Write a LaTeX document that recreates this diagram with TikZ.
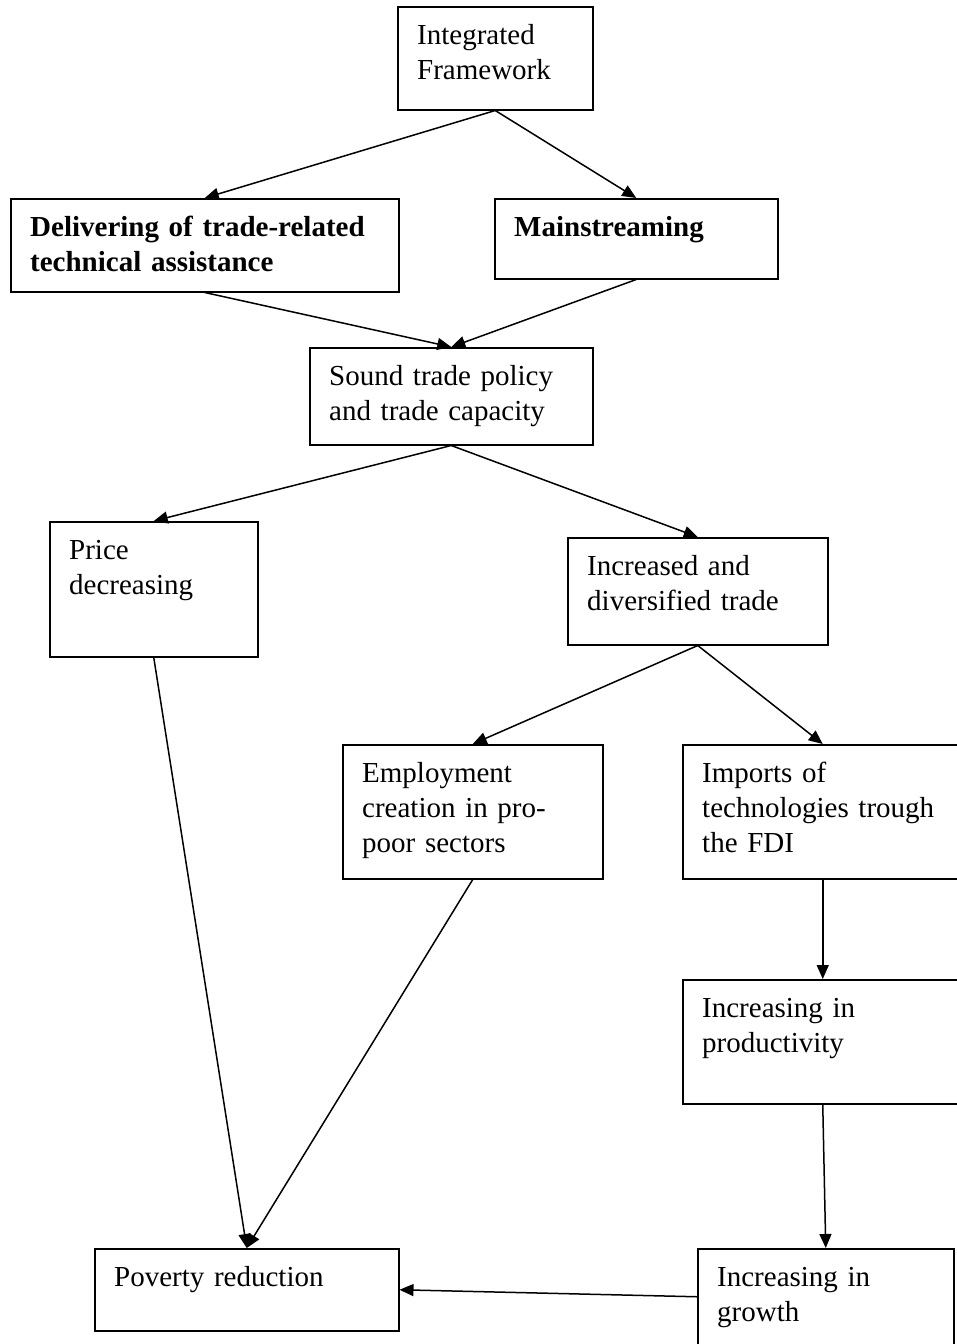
\documentclass[tikz,border=0pt]{standalone}
\usepackage{fontspec}
\setmainfont{Liberation Serif}
\usetikzlibrary{arrows.meta}
\begin{document}
\begin{tikzpicture}[x=1pt,y=-1pt,
  boxnode/.style={draw=black,line width=1.5pt,inner sep=0pt,anchor=north west},
  txt/.style={anchor=base west,inner sep=0pt,text width=400pt,align=left,
    font=\fontsize{29}{35}\selectfont},
  conn/.style={line width=1.5pt,-{Triangle[length=14pt,width=12pt]}}]
\useasboundingbox (0,0) rectangle (956,1344);
\fill[white] (0,0) rectangle (956,1344);
% boxes
\node[boxnode,minimum width=195pt,minimum height=103pt] (ifb) at (397,6) {};
\node[boxnode,minimum width=388pt,minimum height=93pt] (delb) at (10,198) {};
\node[boxnode,minimum width=283pt,minimum height=80pt] (mainb) at (494,198) {};
\node[boxnode,minimum width=283pt,minimum height=97pt] (soundb) at (309,347) {};
\node[boxnode,minimum width=208pt,minimum height=135pt] (priceb) at (49,521) {};
\node[boxnode,minimum width=260pt,minimum height=107pt] (incb) at (567,537) {};
\node[boxnode,minimum width=260pt,minimum height=134pt] (empb) at (342,744) {};
\node[boxnode,minimum width=280pt,minimum height=134pt] (impb) at (682,744) {};
\node[boxnode,minimum width=280pt,minimum height=124pt] (prodb) at (682,979) {};
\node[boxnode,minimum width=304pt,minimum height=82pt] (povb) at (94,1248) {};
\node[boxnode,minimum width=256pt,minimum height=96pt] (growb) at (697,1248) {};
% texts
\node[txt] (ift) at ([shift={(20,38)}]ifb.north west) {Integrated\\Framework};
\node[txt,font=\fontsize{29}{35}\selectfont\bfseries] (delt) at ([shift={(20,38)}]delb.north west) {Delivering of trade-related\\technical assistance};
\node[txt,font=\fontsize{29}{35}\selectfont\bfseries] (maint) at ([shift={(20,38)}]mainb.north west) {Mainstreaming};
\node[txt] (soundt) at ([shift={(20,38)}]soundb.north west) {Sound trade policy\\and trade capacity};
\node[txt] (pricet) at ([shift={(20,38)}]priceb.north west) {Price\\decreasing};
\node[txt] (inct) at ([shift={(20,38)}]incb.north west) {Increased and\\diversified trade};
\node[txt] (empt) at ([shift={(20,38)}]empb.north west) {Employment\\creation in pro-\\poor sectors};
\node[txt] (impt) at ([shift={(20,38)}]impb.north west) {Imports of\\technologies trough\\the FDI};
\node[txt] (prodt) at ([shift={(20,38)}]prodb.north west) {Increasing in\\productivity};
\node[txt] (povt) at ([shift={(20,38)}]povb.north west) {Poverty reduction};
\node[txt] (growt) at ([shift={(20,38)}]growb.north west) {Increasing in\\growth};
% connectors
\draw[conn] (ifb.south) -- (delb.north);
\draw[conn] (ifb.south) -- (mainb.north);
\draw[conn] (delb.south) -- (soundb.north);
\draw[conn] (mainb.south) -- (soundb.north);
\draw[conn] (soundb.south) -- (priceb.north);
\draw[conn] (soundb.south) -- (incb.north);
\draw[conn] (incb.south) -- (empb.north);
\draw[conn] (incb.south) -- (impb.north);
\draw[conn] (impb.south) -- (prodb.north);
\draw[conn] (prodb.south) -- (growb.north);
\draw[conn] (growb.west) -- (povb.east);
\draw[conn] (priceb.south) -- (povb.north);
\draw[conn] (empb.south) -- (povb.north);
\end{tikzpicture}
\end{document}
